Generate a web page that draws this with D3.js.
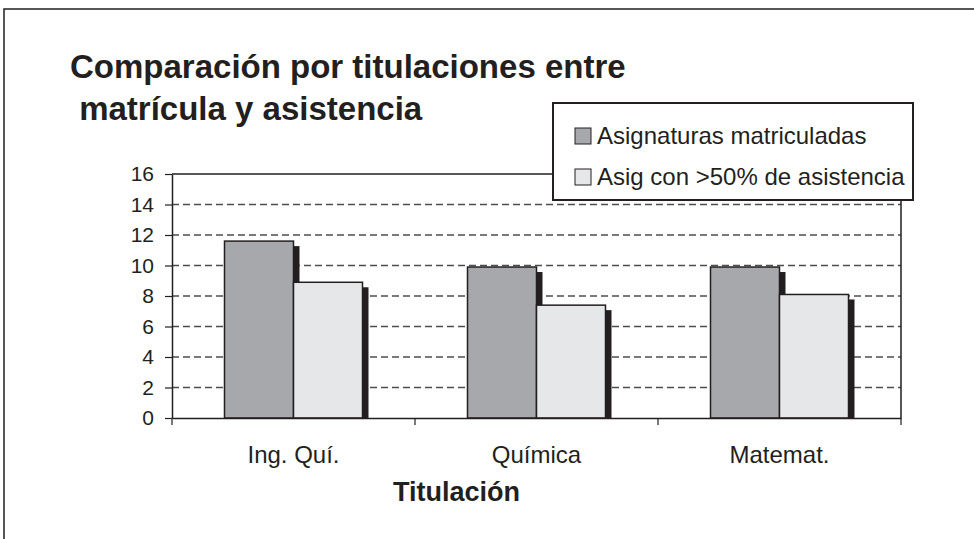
<!DOCTYPE html>
<html lang="es">
<head>
<meta charset="UTF-8">
<title>Comparación por titulaciones</title>
<script src="https://d3js.org/d3.v7.min.js"></script>
<style>
    body { margin: 0; background: #fff; }
    text { font-family: "Liberation Sans", Arial, sans-serif; fill: #231f20; }
</style>
</head>
<body>
<div id="chart"></div>
<script>
// Data
const categories = ["Ing. Quí.", "Química", "Matemat."];
const seriesNames = ["Asignaturas matriculadas", "Asig con >50% de asistencia"];
const matriculadas = [11.6, 9.9, 9.9];
const asistencia = [8.9, 7.4, 8.1];
const yTicks = [0, 2, 4, 6, 8, 10, 12, 14, 16];
const titleLines = ["Comparación por titulaciones entre", " matrícula y asistencia"];

const W = 974, H = 539;
const margin = { top: 174, right: 73, bottom: 121, left: 172 };
const width = W - margin.left - margin.right,
      height = H - margin.top - margin.bottom;

const colors = ["#a7a8ab", "#e6e7e8"];
const shadow = "#231f20";

const svg = d3.select("#chart").append("svg")
    .attr("width", W)
    .attr("height", H);

// outer frame (right/bottom edges fall outside the picture)
svg.append("rect")
    .attr("x", 4).attr("y", 9)
    .attr("width", W + 20).attr("height", H + 20)
    .attr("fill", "none")
    .attr("stroke", "#231f20")
    .attr("stroke-width", 1.5);

const g = svg.append("g")
    .attr("transform", `translate(${margin.left},${margin.top})`);

const x = d3.scaleBand().domain(categories).range([0, width]);
const barW = 69;
const x1 = d3.scaleBand().domain(seriesNames)
    .range([x.bandwidth() / 2 - barW, x.bandwidth() / 2 + barW]);
const y = d3.scaleLinear().domain([0, 16]).range([height, 0]);

// dashed gridlines
g.selectAll(".grid")
    .data(yTicks.filter(d => d > 0 && d < 16))
    .enter().append("line")
    .attr("x1", 0).attr("x2", width)
    .attr("y1", d => y(d)).attr("y2", d => y(d))
    .attr("stroke", "#4d4d4f")
    .attr("stroke-width", 1.5)
    .attr("stroke-dasharray", "7,4");

// plot frame top and right
g.append("path")
    .attr("d", `M0,${y(16)}H${width}V${height}`)
    .attr("fill", "none")
    .attr("stroke", "#231f20")
    .attr("stroke-width", 1.5);

const rows = categories.map((c, i) => ({
    cat: c,
    vals: [matriculadas[i], asistencia[i]]
}));

rows.forEach(r => {
    const grp = g.append("g").attr("transform", `translate(${x(r.cat)},0)`);
    r.vals.forEach((v, j) => {
        const bx = x1(seriesNames[j]);
        grp.append("rect")
            .attr("x", bx + 6)
            .attr("y", y(v) + 5)
            .attr("width", x1.bandwidth())
            .attr("height", height - y(v) - 4)
            .attr("fill", shadow);
        grp.append("rect")
            .attr("x", bx)
            .attr("y", y(v))
            .attr("width", x1.bandwidth())
            .attr("height", height - y(v))
            .attr("fill", colors[j])
            .attr("stroke", "#231f20")
            .attr("stroke-width", 1.5);
    });
});

// y axis
const yAxis = g.append("g")
    .call(d3.axisLeft(y).tickValues(yTicks).tickSize(7).tickPadding(11).tickSizeOuter(0));
yAxis.select(".domain").attr("stroke", "#231f20").attr("stroke-width", 1.5);
yAxis.selectAll(".tick line").attr("stroke", "#231f20").attr("stroke-width", 1.2);
yAxis.selectAll(".tick text")
    .style("font-family", "Liberation Sans, Arial, sans-serif")
    .style("font-size", "21px")
    .attr("fill", "#231f20");

// x axis
const xAxis = g.append("g")
    .attr("transform", `translate(0,${height})`)
    .call(d3.axisBottom(x).tickSize(0).tickPadding(28).tickSizeOuter(0));
xAxis.select(".domain").attr("stroke", "#231f20").attr("stroke-width", 1.5);
xAxis.selectAll(".tick text")
    .style("font-family", "Liberation Sans, Arial, sans-serif")
    .style("font-size", "24px")
    .attr("fill", "#231f20");

// category boundary ticks
g.selectAll(".bt")
    .data(categories.map(c => x(c)).concat([width]))
    .enter().append("line")
    .attr("x1", d => d).attr("x2", d => d)
    .attr("y1", height).attr("y2", height + 7)
    .attr("stroke", "#231f20")
    .attr("stroke-width", 1.2);

// x axis title
svg.append("text")
    .attr("x", margin.left + width / 2 - 80)
    .attr("y", 501)
    .attr("text-anchor", "middle")
    .style("font-size", "27px")
    .style("font-weight", "bold")
    .text("Titulación");

// chart title
svg.append("text")
    .attr("x", 70)
    .attr("y", 78)
    .style("font-size", "33px")
    .style("font-weight", "bold")
    .style("white-space", "pre")
    .selectAll("tspan")
    .data(titleLines)
    .enter().append("tspan")
    .attr("x", 70)
    .attr("dy", (d, i) => i === 0 ? 0 : 42)
    .text(d => d);

// legend
const legend = svg.append("g").attr("transform", "translate(553,103)");
legend.append("rect")
    .attr("width", 360).attr("height", 97)
    .attr("fill", "#fff")
    .attr("stroke", "#231f20")
    .attr("stroke-width", 2);
seriesNames.forEach((s, i) => {
    const row = legend.append("g").attr("transform", `translate(22,${33 + i * 41})`);
    row.append("rect")
        .attr("x", 0).attr("y", -8)
        .attr("width", 16).attr("height", 16)
        .attr("fill", colors[i])
        .attr("stroke", "#231f20")
        .attr("stroke-width", 1);
    row.append("text")
        .attr("x", 22)
        .attr("y", 8)
        .style("font-size", "24px")
        .text(s);
});
</script>
</body>
</html>
